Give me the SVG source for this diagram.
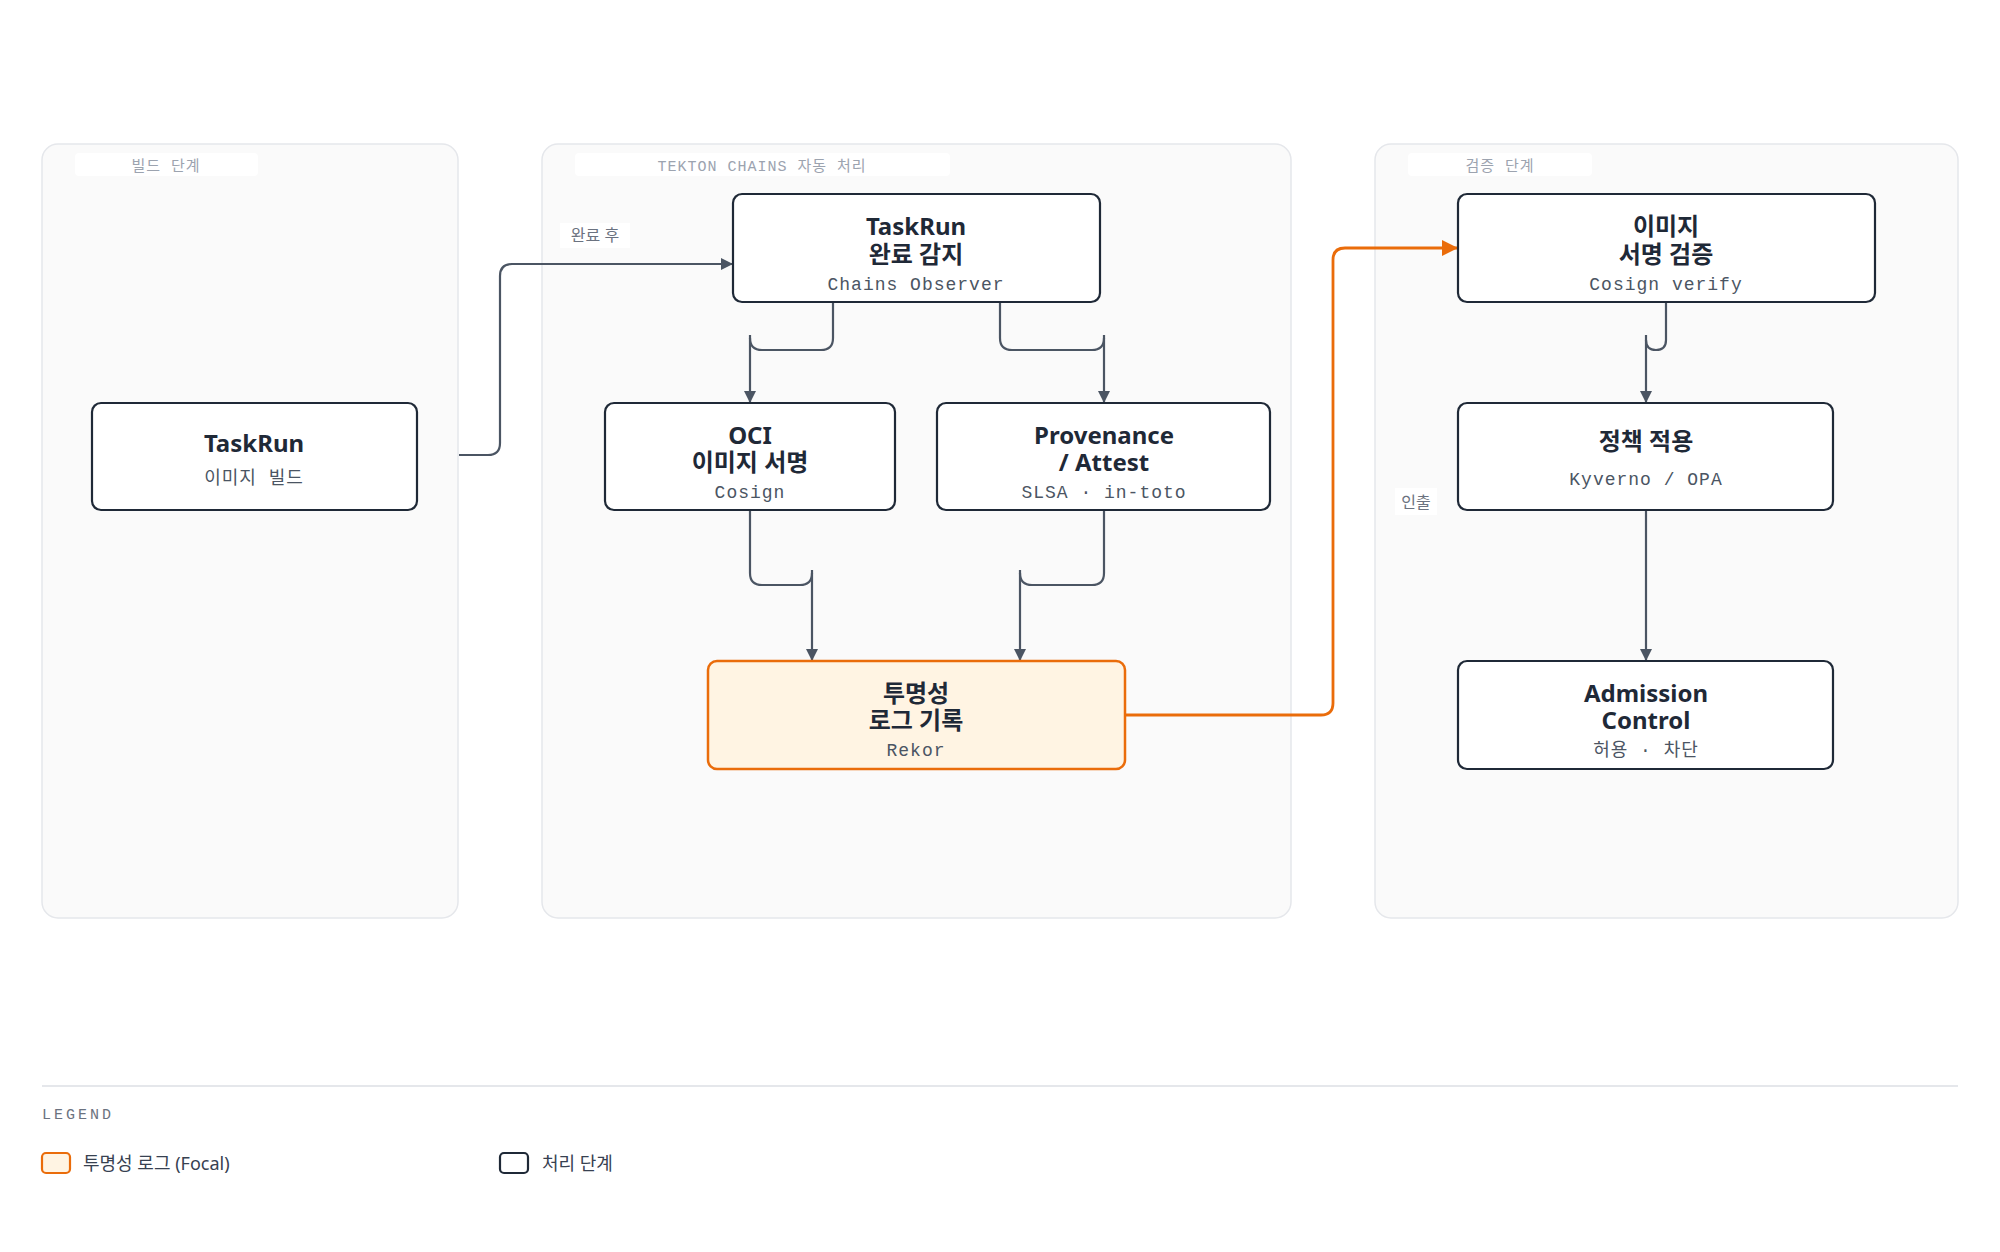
<svg xmlns="http://www.w3.org/2000/svg" width="2000" height="1252" viewBox="0 0 2000 1252">
<style>
.grp{fill:#fafafa;stroke:#e5e7eb;stroke-width:1.5}
.glbl{fill:#ffffff}
.gtxt{font-family:"Liberation Mono","Noto Sans CJK KR",monospace;font-size:15px;fill:#9ca3af;text-anchor:middle;letter-spacing:1px}
.node{fill:#ffffff;stroke:#1f2937;stroke-width:2.2}
.focal{fill:#fff4e3;stroke:#ea6c0a;stroke-width:2.5}
.t{font-family:"Noto Sans","Noto Sans CJK KR",sans-serif;font-weight:700;font-size:24px;fill:#1f2937;text-anchor:middle}
.s{font-family:"Liberation Mono","Noto Sans CJK KR",monospace;font-size:18px;fill:#4b5563;text-anchor:middle;letter-spacing:1px}
.e{fill:none;stroke:#4b5563;stroke-width:2.2}
.eo{fill:none;stroke:#ea6c0a;stroke-width:2.8}
.lbl{font-family:"Noto Sans","Noto Sans CJK KR",sans-serif;font-size:16px;fill:#6b7280;text-anchor:middle}
.leg{font-family:"Noto Sans","Noto Sans CJK KR",sans-serif;font-size:18px;fill:#374151}
</style>
<defs>
<marker id="ag" viewBox="0 0 10 10" refX="10" refY="5" markerWidth="14" markerHeight="12" markerUnits="userSpaceOnUse" orient="auto"><path d="M0,0 L10,5 L0,10 z" fill="#4b5563"/></marker>
<marker id="ao" viewBox="0 0 10 10" refX="10" refY="5" markerWidth="18" markerHeight="16" markerUnits="userSpaceOnUse" orient="auto"><path d="M0,0 L10,5 L0,10 z" fill="#ea6c0a"/></marker>
</defs>
<rect width="2000" height="1252" fill="#ffffff"/>
<g id="groups">
<rect class="grp" x="42" y="144" width="416" height="774" rx="16"/>
<rect class="glbl" x="75" y="153" width="183" height="23" rx="4"/>
<text class="gtxt" x="166" y="171">빌드 단계</text>
<rect class="grp" x="542" y="144" width="749" height="774" rx="16"/>
<rect class="glbl" x="575" y="153" width="375" height="23" rx="4"/>
<text class="gtxt" x="762" y="171">TEKTON CHAINS 자동 처리</text>
<rect class="grp" x="1375" y="144" width="583" height="774" rx="16"/>
<rect class="glbl" x="1408" y="153" width="184" height="23" rx="4"/>
<text class="gtxt" x="1500" y="171">검증 단계</text>
</g>
<g id="connectors">
<path class="e" d="M459 455 H488 Q500 455 500 443 V276 Q500 264 512 264 H733" marker-end="url(#ag)"/>
<rect x="560" y="223" width="70" height="25" fill="#ffffff"/>
<text class="lbl" x="595" y="241">완료 후</text>
<path class="e" d="M833 302 V338 Q833 350 821 350 H762 Q750 350 750 338"/>
<path class="e" d="M750 335 V403" marker-end="url(#ag)"/>
<path class="e" d="M1000 302 V338 Q1000 350 1012 350 H1092 Q1104 350 1104 338"/>
<path class="e" d="M1104 335 V403" marker-end="url(#ag)"/>
<path class="e" d="M750 510 V573 Q750 585 762 585 H800 Q812 585 812 573"/>
<path class="e" d="M812 570 V661" marker-end="url(#ag)"/>
<path class="e" d="M1104 510 V573 Q1104 585 1092 585 H1032 Q1020 585 1020 573"/>
<path class="e" d="M1020 570 V661" marker-end="url(#ag)"/>
<path class="eo" d="M1126 715 H1321 Q1333 715 1333 703 V260 Q1333 248 1345 248 H1458" marker-end="url(#ao)"/>
<path class="e" d="M1666 302 V340 Q1666 350 1656 350 Q1646 350 1646 340"/>
<path class="e" d="M1646 335 V403" marker-end="url(#ag)"/>
<path class="e" d="M1646 510 V661" marker-end="url(#ag)"/>
<rect x="1395" y="488" width="42" height="27" fill="#ffffff"/>
<text class="lbl" x="1416" y="508">인출</text>
</g>
<g id="n-build">
<rect class="node" x="92" y="403" width="325" height="107" rx="9"/>
<text class="t" x="254" y="452">TaskRun</text>
<text class="s" x="254" y="484">이미지 빌드</text>
</g>
<g id="n-observer">
<rect class="node" x="733" y="194" width="367" height="108" rx="9"/>
<text class="t" x="916" y="235">TaskRun</text>
<text class="t" x="916" y="263">완료 감지</text>
<text class="s" x="916" y="290">Chains Observer</text>
</g>
<g id="n-oci">
<rect class="node" x="605" y="403" width="290" height="107" rx="9"/>
<text class="t" x="750" y="444">OCI</text>
<text class="t" x="750" y="471">이미지 서명</text>
<text class="s" x="750" y="498">Cosign</text>
</g>
<g id="n-prov">
<rect class="node" x="937" y="403" width="333" height="107" rx="9"/>
<text class="t" x="1104" y="444">Provenance</text>
<text class="t" x="1104" y="471">/ Attest</text>
<text class="s" x="1104" y="498">SLSA · in-toto</text>
</g>
<g id="n-rekor">
<rect class="focal" x="708" y="661" width="417" height="108" rx="9"/>
<text class="t" x="916" y="702">투명성</text>
<text class="t" x="916" y="729">로그 기록</text>
<text class="s" x="916" y="756">Rekor</text>
</g>
<g id="n-verify">
<rect class="node" x="1458" y="194" width="417" height="108" rx="9"/>
<text class="t" x="1666" y="235">이미지</text>
<text class="t" x="1666" y="263">서명 검증</text>
<text class="s" x="1666" y="290">Cosign verify</text>
</g>
<g id="n-policy">
<rect class="node" x="1458" y="403" width="375" height="107" rx="9"/>
<text class="t" x="1646" y="450">정책 적용</text>
<text class="s" x="1646" y="485">Kyverno / OPA</text>
</g>
<g id="n-admission">
<rect class="node" x="1458" y="661" width="375" height="108" rx="9"/>
<text class="t" x="1646" y="702">Admission</text>
<text class="t" x="1646" y="729">Control</text>
<text class="s" x="1646" y="756">허용 · 차단</text>
</g>
<g id="legend">
<line x1="42" y1="1086" x2="1958" y2="1086" stroke="#e5e7eb" stroke-width="2"/>
<text x="42" y="1119" style="font-family:'Liberation Mono',monospace;font-size:15px;fill:#6b7280;letter-spacing:3px">LEGEND</text>
<rect x="42" y="1153" width="28" height="20" rx="4" fill="#fff4e3" stroke="#ea6c0a" stroke-width="2.2"/>
<text class="leg" x="83" y="1170">투명성 로그 (Focal)</text>
<rect x="500" y="1153" width="28" height="20" rx="4" fill="#ffffff" stroke="#1f2937" stroke-width="2.2"/>
<text class="leg" x="542" y="1170">처리 단계</text>
</g>
</svg>
